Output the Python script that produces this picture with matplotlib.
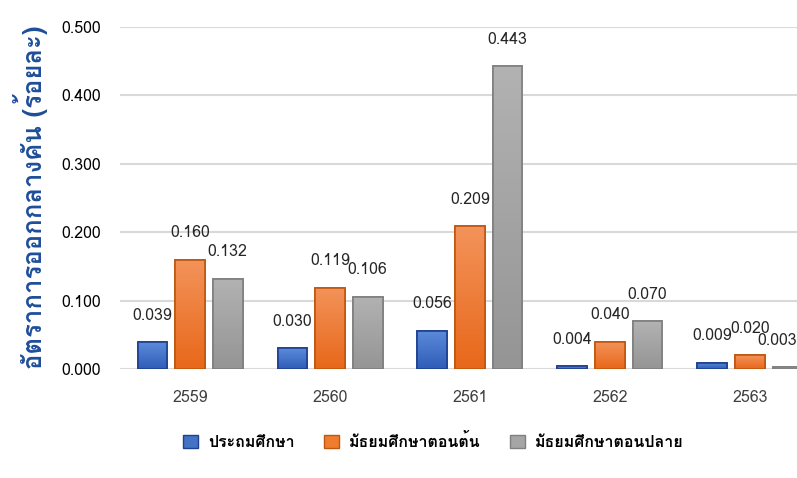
import matplotlib
matplotlib.use("Agg")
import numpy as np
import matplotlib.pyplot as plt
from matplotlib.patches import Patch
from matplotlib.colors import LinearSegmentedColormap

plt.rcParams["font.family"] = ["Loma", "DejaVu Sans"]

# data
years = ["2559", "2560", "2561", "2562", "2563"]
primary = [0.039, 0.030, 0.056, 0.004, 0.009]
lower_sec = [0.160, 0.119, 0.209, 0.040, 0.020]
upper_sec = [0.132, 0.106, 0.443, 0.070, 0.003]
series_names = ["ประถมศึกษา", "มัธยมศึกษาตอนต้น", "มัธยมศึกษาตอนปลาย"]

faces = ["#4472C4", "#F07D2E", "#A5A5A5"]
edges = ["#1F3F8F", "#C0560F", "#7F7F7F"]
# (bottom, top) shades for the bar gradient
grads = [("#2F5DB8", "#5B8BDA"), ("#E8681A", "#F3935A"), ("#959595", "#B2B2B2")]

fig = plt.figure(figsize=(7.97, 4.78), dpi=100)
ax = fig.add_axes([0.1506, 0.228, 0.8494, 0.7155])

xmin, xmax = -0.5, 4.336
x = np.arange(len(years))
w = 0.214
step = 0.268
grad = np.linspace(0, 1, 64).reshape(-1, 1)
for i, vals in enumerate([primary, lower_sec, upper_sec]):
    pos = x + (i - 1) * step
    bars = ax.bar(pos, vals, width=w, color=faces[i], edgecolor=edges[i],
                  linewidth=1.2, zorder=3)
    cmap = LinearSegmentedColormap.from_list("g%d" % i, grads[i])
    for b in bars:
        bx, by = b.get_x(), b.get_y()
        im = ax.imshow(grad, cmap=cmap, origin="lower", aspect="auto",
                       extent=(bx, bx + b.get_width(), by, by + b.get_height()),
                       zorder=3.1)
        im.set_clip_path(b)
        # redraw the outline over the gradient
        ax.bar(b.get_x() + b.get_width() / 2, b.get_height(), width=w,
               facecolor="none", edgecolor=edges[i], linewidth=1.2, zorder=3.2)
    for px, v in zip(pos, vals):
        ha = "center"
        if px + 0.2 > xmax:
            px, ha = xmax, "right"
        ax.annotate("{:.3f}".format(v), (px, v), xytext=(0, 19),
                    textcoords="offset points", ha=ha, va="center",
                    fontsize=11.5, color="#262626", zorder=4)

ax.set_xlim(xmin, xmax)
ax.set_ylim(0, 0.5)
ticks = np.arange(0, 0.51, 0.1)
ax.set_yticks(ticks)
ax.set_yticklabels(["{:.3f}".format(t) for t in ticks])
ax.set_xticks(x)
ax.set_xticklabels(years)
ax.tick_params(axis="y", length=0, pad=14, labelsize=11.5, labelcolor="#000000")
ax.tick_params(axis="x", length=0, pad=15, labelsize=11.5, labelcolor="#404040")
ax.grid(axis="y", color="#D9D9D9", linewidth=1.5, zorder=0)
for s in ax.spines.values():
    s.set_visible(False)

fig.text(0.038, 0.588, "อัตราการออกกลางคัน (ร้อยละ)", rotation=90,
         ha="center", va="center", fontsize=18.5, fontweight="bold",
         color="#1F4E9A")

handles = [Patch(facecolor=faces[i], edgecolor=edges[i]) for i in range(3)]
fig.legend(handles, series_names, loc="center", bbox_to_anchor=(0.544, 0.077),
           ncol=3, frameon=False, handlelength=0.9, handleheight=0.9,
           columnspacing=1.85, handletextpad=0.65,
           prop={"size": 11.5, "weight": "bold"})

fig.savefig("out.png", dpi=100)
